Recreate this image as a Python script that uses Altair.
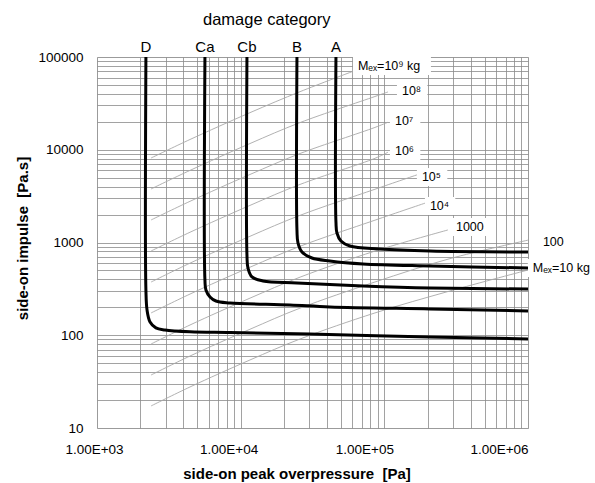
import altair as alt
import pandas as pd

# ---------------- data ----------------
cat_names = ["D", "Ca", "Cb", "B", "A"]

D_P = [2190, 2190, 2230, 2340, 2570, 2970, 4440, 8430, 30300, 208000, 1000000]
D_I = [100000, 308, 187, 139, 120, 114, 109, 107, 103, 95.7, 91.3]
Ca_P = [5640, 5640, 5730, 6120, 6730, 8430, 22000, 41800, 208000, 1000000]
Ca_I = [100000, 394, 308, 259, 234, 223, 212, 202, 192, 183]
Cb_P = [11060, 11060, 11240, 11990, 14300, 24650, 71000, 208000, 1000000]
Cb_I = [100000, 733, 531, 425, 385, 366, 340, 323, 315]
B_P = [24650, 24650, 25050, 26710, 31350, 41800, 71000, 208000, 1000000]
B_I = [100000, 1364, 988, 790, 681, 632, 587, 558, 531]
A_P = [46050, 46050, 46790, 49880, 57640, 93100, 208000, 1000000]
A_I = [100000, 1663, 1266, 1038, 917, 851, 809, 790]
cat_P = [D_P, Ca_P, Cb_P, B_P, A_P]
cat_I = [D_I, Ca_I, Cb_I, B_I, A_I]

mass_names = ["10", "100", "1000", "1e4", "1e5", "1e6", "1e7", "1e8", "1e9"]
m10_P = [2380, 4440, 11600, 25900, 86000, 286000, 1000000]
m10_I = [17.3, 27.7, 54.1, 91.1, 174, 300, 505]
m100_P = [2380, 4440, 11600, 25900, 86000, 286000, 1000000]
m100_I = [37.3, 59.7, 116, 196, 375, 670, 1060]
m1e3_P = [2380, 4440, 11600, 25900, 86000, 277000]
m1e3_I = [80.5, 129, 251, 423, 808, 1365]
m1e4_P = [2380, 4440, 11600, 25900, 86000, 198000]
m1e4_I = [174, 278, 541, 911, 1740, 2700]
m1e5_P = [2380, 4440, 11600, 25900, 86000, 174000]
m1e5_I = [375, 599, 1166, 1963, 3750, 5450]
m1e6_P = [2380, 4440, 11600, 25900, 86000, 106000]
m1e6_I = [810, 1290, 2510, 4230, 8080, 9400]
m1e7_P = [2380, 4440, 11600, 25900, 86000, 106000]
m1e7_I = [1750, 2780, 5410, 9110, 17400, 19800]
m1e8_P = [2380, 4440, 11600, 25900, 86000, 106000]
m1e8_I = [3780, 5990, 11660, 19630, 37500, 42000]
m1e9_P = [2380, 4440, 11600, 25900, 60400]
m1e9_I = [8150, 12900, 25100, 42300, 70000]
mass_P = [m10_P, m100_P, m1e3_P, m1e4_P, m1e5_P, m1e6_P, m1e7_P, m1e8_P, m1e9_P]
mass_I = [m10_I, m100_I, m1e3_I, m1e4_I, m1e5_I, m1e6_I, m1e7_I, m1e8_I, m1e9_I]

mass_label_text = ["Mₑₓ=10⁹ kg", "10⁸", "10⁷", "10⁶", "10⁵", "10⁴", "1000", "100", "Mₑₓ=10 kg"]
mass_label_P = [65500, 132600, 118500, 118500, 182600, 207600, 315000, 1270000, 1080000]
mass_label_I = [80000, 43000, 20400, 9700, 5080, 2475, 1469, 1013, 531]

x_tick_values = [1000, 10000, 100000, 1000000]
x_tick_text = ["1.00E+03", "1.00E+04", "1.00E+05", "1.00E+06"]
y_tick_values = [10, 100, 1000, 10000, 100000]
y_tick_text = ["10", "100", "1000", "10000", "100000"]

# ---------------- tables ----------------
rows = []
for name, ps, is_ in zip(cat_names, cat_P, cat_I):
    for k, (p, i) in enumerate(zip(ps, is_)):
        rows.append({"curve": name, "idx": k, "P": p, "I": i})
cat_df = pd.DataFrame(rows)

rows = []
for name, ps, is_ in zip(mass_names, mass_P, mass_I):
    for k, (p, i) in enumerate(zip(ps, is_)):
        rows.append({"curve": name, "idx": k, "P": p, "I": i})
mass_df = pd.DataFrame(rows)

lab_df = pd.DataFrame({"label": mass_label_text, "P": mass_label_P, "I": mass_label_I})
# white box behind each label (custom symbol path, 1 unit = 10 px at size 400)
lab_df["box"] = [
    f"M-0.5,-0.9H{(6.8 * len(t) + 5) / 10:.2f}V0.9H-0.5Z" for t in lab_df["label"]
]
catlab_df = pd.DataFrame({"label": cat_names, "P": [ps[0] for ps in cat_P], "I": [100000] * 5})

FONT = "Liberation Sans"

x_grid = [m * 10 ** e for e in range(3, 6) for m in range(1, 10)] + [10 ** 6]
y_grid = [m * 10 ** e for e in range(1, 5) for m in range(1, 10)] + [10 ** 5]

x_expr = " : ".join(f"datum.value == {v} ? '{t}'" for v, t in zip(x_tick_values, x_tick_text)) + " : ''"
y_expr = " : ".join(f"datum.value == {v} ? '{t}'" for v, t in zip(y_tick_values, y_tick_text)) + " : ''"
x_shift = [-3, -12, -20, -29]

x_scale = alt.Scale(type="log", domain=[1000, 1000000], nice=False)
y_scale = alt.Scale(type="log", domain=[10, 100000], nice=False)

x_axis = alt.Axis(
    values=x_grid, labelExpr=x_expr, grid=True, gridColor="#8a8a8a", gridWidth=0.8,
    ticks=False, tickSize=0, domain=False, labelFont=FONT, labelFontSize=13.5,
    labelColor="black", labelPadding=14, labelFlush=False, labelOverlap=False,
    labelOffset={"condition": [{"test": f"datum.value == {v}", "value": s}
                               for v, s in zip(x_tick_values, x_shift)], "value": 0},
    title="side-on peak overpressure \u00a0[Pa]", titleFont=FONT, titleFontSize=15,
    titleFontWeight="bold", titleColor="black", titleX=199.5, titleY=50,
    titleAlign="center", titleBaseline="alphabetic",
)
y_axis = alt.Axis(
    values=y_grid, labelExpr=y_expr, grid=True, gridColor="#8a8a8a", gridWidth=0.8,
    ticks=False, tickSize=0, domain=False, labelFont=FONT, labelFontSize=13.5,
    labelColor="black", labelPadding=14, labelFlush=False, labelOverlap=False,
    title="side-on impulse \u00a0[Pa.s]", titleFont=FONT, titleFontSize=15,
    titleFontWeight="bold", titleColor="black", titleX=-70, titleY=181,
    titleAlign="center", titleBaseline="alphabetic", titleAngle=270,
)

mass_lines = alt.Chart(mass_df).mark_line(
    color="#a8a8a8", strokeWidth=0.9, interpolate="catmull-rom"
).encode(
    x=alt.X("P:Q", scale=x_scale, axis=x_axis),
    y=alt.Y("I:Q", scale=y_scale, axis=y_axis),
    detail="curve:N",
    order="idx:Q",
)

boxes = alt.Chart(lab_df).mark_point(
    filled=True, color="white", opacity=1, size=400, strokeWidth=0
).encode(x="P:Q", y="I:Q", shape=alt.Shape("box:N", scale=None))

mass_text = alt.Chart(lab_df).mark_text(
    align="left", baseline="middle", font=FONT, fontSize=12.5, color="black"
).encode(x="P:Q", y="I:Q", text="label:N")

thick = alt.Chart(cat_df).mark_line(
    color="black", strokeWidth=3, interpolate="catmull-rom", clip=True
).encode(x="P:Q", y="I:Q", detail="curve:N", order="idx:Q")

cat_text = alt.Chart(catlab_df).mark_text(
    align="center", baseline="alphabetic", dy=-5, font=FONT, fontSize=15, color="black"
).encode(x="P:Q", y="I:Q", text="label:N")

chart = alt.layer(mass_lines, boxes, mass_text, thick, cat_text).properties(
    width=431, height=371,
    title=alt.TitleParams("damage category", anchor="start", dx=106, offset=-1,
                          frame="group", baseline="alphabetic", font=FONT,
                          fontSize=16.5, fontWeight="normal", color="black"),
    autosize=alt.AutoSizeParams(type="none"),
    padding={"left": 97, "top": 57, "right": 67, "bottom": 55},
).configure_view(stroke="#808080", strokeWidth=1.5).configure(background="white")

chart.save("out.html", embed_options={"renderer": "svg", "actions": False})
